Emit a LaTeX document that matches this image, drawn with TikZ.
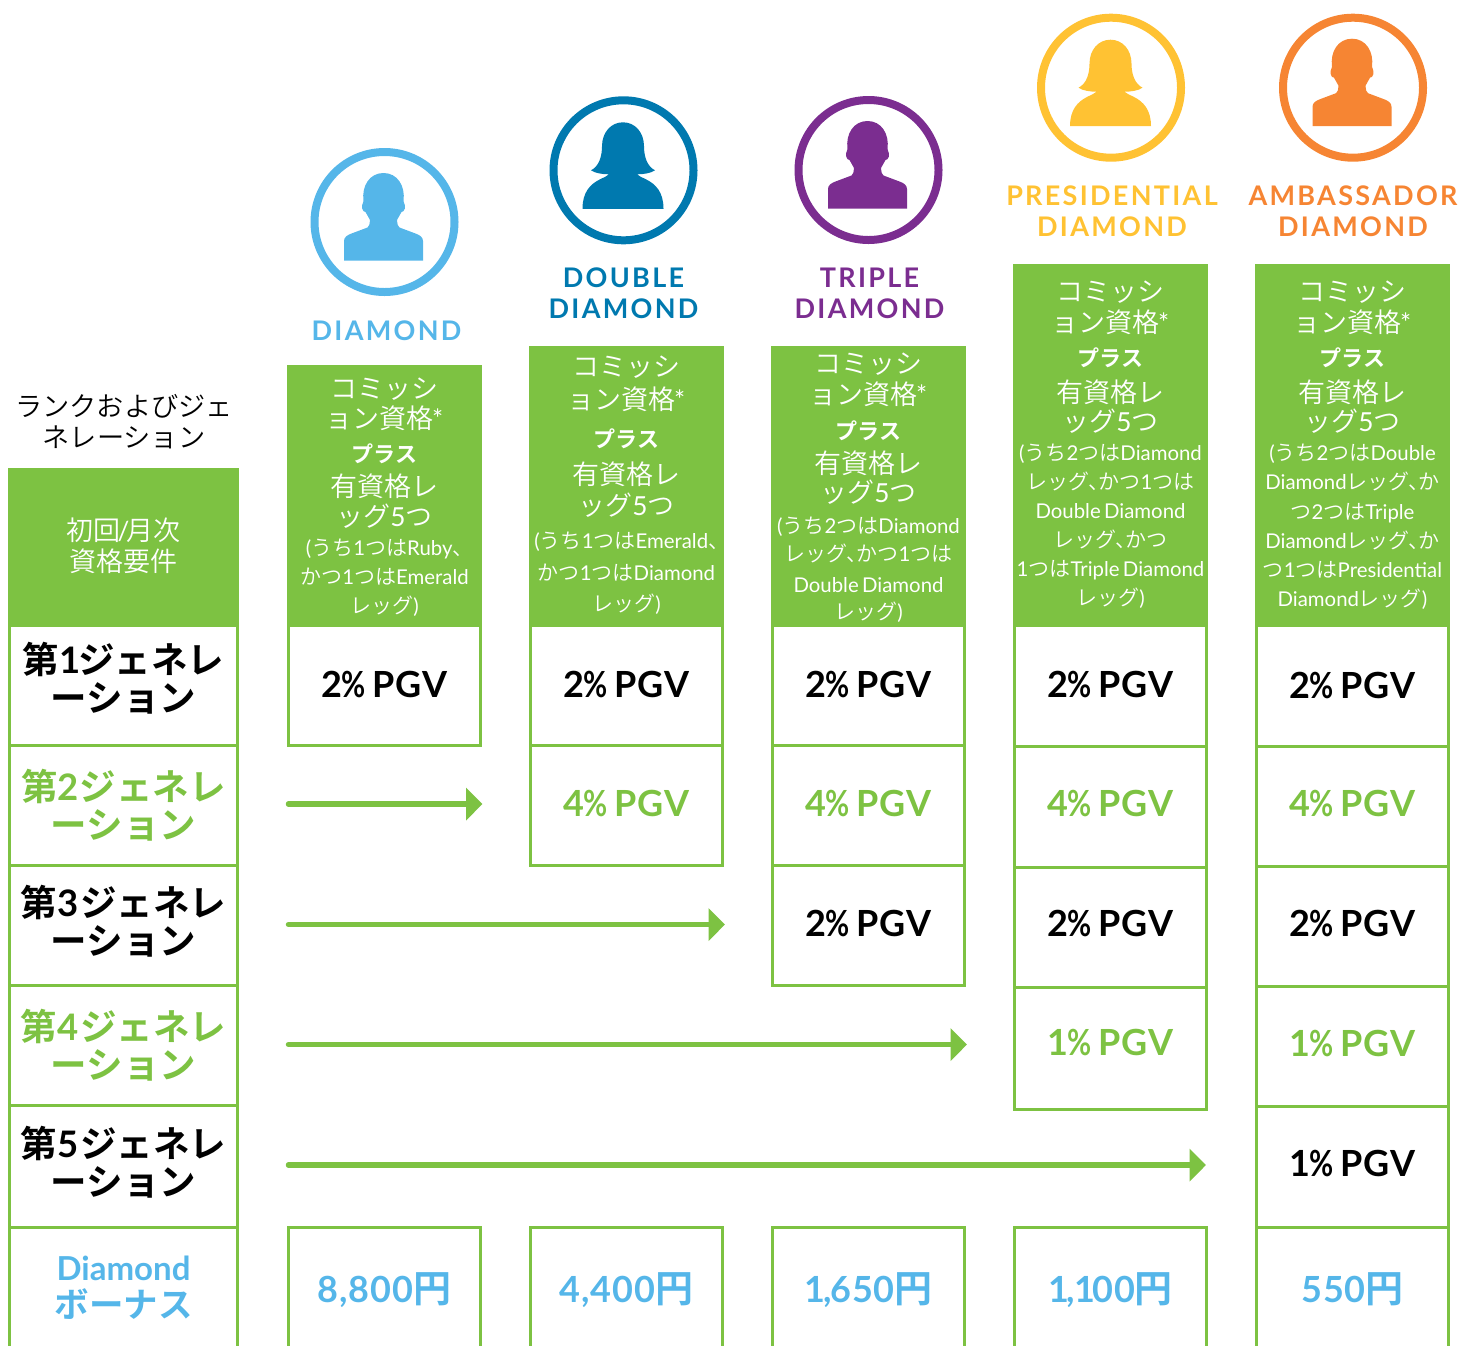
\documentclass[tikz,border=0pt]{standalone}
\usepackage{fontspec}
\usetikzlibrary{arrows.meta}
\IfFontExistsTF{Noto Sans CJK JP DemiLight}{\newfontfamily\jpl{Noto Sans CJK JP DemiLight}}{\newfontfamily\jpl{Noto Sans CJK JP Light}}
\newfontfamily\jpb{Noto Sans CJK JP Bold}
\newfontfamily\lal[Scale=0.97]{Lato}
\newfontfamily\lab{Lato Bold}
\newfontfamily\lay[LetterSpace=2.5]{Lato Bold}
\newfontfamily\lat[LetterSpace=8.5]{Lato Bold}
\definecolor{grn}{HTML}{7DC242}
\definecolor{sky}{HTML}{55B6E9}
\definecolor{blu}{HTML}{0079AF}
\definecolor{pur}{HTML}{7B2D90}
\definecolor{yel}{HTML}{FFC233}
\definecolor{org}{HTML}{F68533}
\newcommand\fs[1]{\fontsize{#1}{0}\selectfont}
\newcommand\tl[1]{{\lal #1}}
\newcommand\ten{、\kern-.5em}
\newcommand\stx{\kern-1.5pt\tl{*}}
% large, bold and small header lines
\newcommand\La[1]{{\fs{27}\jpl #1}}
\newcommand\Bo[1]{{\fs{22}\jpb #1}}
\newcommand\Sm[1]{{\fs{21}\jpl #1}}
\tikzset{
  boxbase/.style={rectangle,inner sep=0pt,outer sep=0pt,align=center,
    execute at begin node={\lineskiplimit=-1000pt\baselineskip=0pt}},
  hdrbox/.style={boxbase,fill=grn,text=white},
  cellbox/.style={boxbase,draw=grn,line width=3pt},
  pgvblack/.style={cellbox,text=black},
  pgvgreen/.style={cellbox,text=grn},
  bonus/.style={cellbox,text=sky},
  ringnode/.style={circle,draw=#1,line width=8pt,minimum size=140pt,inner sep=0pt,outer sep=0pt},
  titletext/.style={anchor=base,inner sep=0pt,align=center,text width=240pt,text=#1,
    execute at begin node={\lineskiplimit=-1000pt\baselineskip=0pt}},
  flow/.style={draw=grn,line width=5.5pt,line cap=round,-{Triangle[length=16.5pt,width=32pt]}},
  maleicon/.pic={
    \path[pic actions] (-39.5,38.5) -- (-39.5,19) .. controls (-39.5,15) and (-36,13) .. (-32,11.5)
      -- (-16,5.5) .. controls (-14,4.5) and (-14,2) .. (-13.5,-2) -- (-18,-10)
      .. controls (-21,-10) and (-23,-15) .. (-20,-21) .. controls (-22,-36) and (-14,-49) .. (0,-49)
      .. controls (14,-49) and (22,-36) .. (20,-21) .. controls (23,-15) and (21,-10) .. (18,-10)
      -- (13.5,-2) .. controls (14,2) and (14,4.5) .. (16,5.5) -- (32,11.5)
      .. controls (36,13) and (39.5,15) .. (39.5,19) -- (39.5,38.5) -- cycle;
  },
  femaleicon/.pic={
    \path[pic actions] (-40.5,38.5) .. controls (-40.5,22) and (-33,14) .. (-23,9)
      .. controls (-19,7) and (-16,6) .. (-14,4) .. controls (-20,4) and (-28,3) .. (-32,0)
      .. controls (-24,-4) and (-21,-14) .. (-21,-24) .. controls (-21,-38) and (-12,-48) .. (0,-48)
      .. controls (12,-48) and (21,-38) .. (21,-24) .. controls (21,-14) and (24,-4) .. (32,0)
      .. controls (28,3) and (20,4) .. (14,4) .. controls (16,6) and (19,7) .. (23,9)
      .. controls (33,14) and (40.5,22) .. (40.5,38.5) -- cycle;
  }
}
% [style]{name}{x1}{y1}{x2}{y2}{first baseline}{first-to-last baseline}{text}
\newcommand\bx[9][]{%
  \pgfmathsetmacro\bxw{#5-#3}\pgfmathsetmacro\bxv{#6-#4}%
  \pgfmathsetmacro\bxh{#8+2*(#7-(#4+#6)/2)}%
  \pgfmathsetmacro\bxx{(#3+#5)/2}\pgfmathsetmacro\bxy{(#4+#6)/2}%
  \node[#1,minimum width=\bxw pt,minimum height=\bxv pt,text width=\bxw pt,
    text height=\bxh pt,text depth=#8 pt] (#2) at (\bxx,\bxy) {#9};}
\newcommand\pgv[1]{{\fs{36}\lab #1\kern-1pt\scalebox{.82}[1]{\%}\kern3pt\ {\lay PGV}}}
\newcommand\yen[1]{{\fs{36}\lay #1{\fs{38}\jpb 円}}}
\newcommand\gen[2]{\fs{36.5}\jpb 第{\lab #1}\kern#2pt ジェネレ\\[38pt]ーション}
\begin{document}
\begin{tikzpicture}[x=1pt,y=-1pt]
\useasboundingbox (0,0) rectangle (1458,1345);
\clip (0,0) rectangle (1458,1345);
% rank icons
\node[ringnode=sky] (r1) at (384.5,222) {};
\pic[fill=sky] at (383.5,222) {maleicon};
\node[ringnode=blu] (r2) at (623.5,170.3) {};
\pic[fill=blu] at (623,170.3) {femaleicon};
\node[ringnode=pur] (r3) at (868.5,170) {};
\pic[fill=pur] at (867.5,170) {maleicon};
\node[ringnode=yel] (r4) at (1111,87.7) {};
\pic[fill=yel] at (1110.5,87.7) {femaleicon};
\node[ringnode=org] (r5) at (1353,87.7) {};
\pic[fill=org] at (1352,87.7) {maleicon};
% rank names
\node[titletext=sky] (t1) at (386.5,340) {\fs{27}\lat DIAMOND};
\node[titletext=blu] (t2) at (623.5,287.5) {\fs{27}\lat DOUBLE\\[31pt]DIAMOND};
\node[titletext=pur] (t3) at (869.5,287.5) {\fs{27}\lat TRIPLE\\[31pt]DIAMOND};
\node[titletext=yel] (t4) at (1112,205) {\fs{27}\lat PRESIDENTIAL\\[31pt]DIAMOND};
\node[titletext=org] (t5) at (1353,205) {\fs{27}\lat AMBASSADOR\\[31pt]DIAMOND};
\node[titletext=black] (t0) at (124,416.5) {\fs{27.2}\jpl ランクおよびジェ\\[30.5pt]ネレーション};
% green headers
\bx[hdrbox]{h0}{8}{468}{239}{627}{540}{31.5}{\La{初回\kern-3pt\tl{/}\kern-3pt月次}\\[31.5pt]\La{資格要件}}
\bx[hdrbox]{h1}{287}{365}{482}{627}{398}{215}{\La{コミッシ}\\[30pt]\La{ョン資格\stx}\\[34pt]\Bo{プラス}\\[34.5pt]\La{有資格レ}\\[29.5pt]\La{ッグ\tl{5}つ}\\[29.5pt]\Sm{\tl{(}うち\tl{1}つは\tl{Ruby}\ten}\\[29pt]\Sm{かつ\tl{1}つは\tl{Emerald}}\\[28.5pt]\Sm{レッグ\tl{)}}}
\bx[hdrbox]{h2}{529}{346}{724}{627}{376.5}{235}{\La{コミッシ}\\[33pt]\La{ョン資格\stx}\\[37.5pt]\Bo{プラス}\\[37.5pt]\La{有資格レ}\\[31pt]\La{ッグ\tl{5}つ}\\[33pt]\Sm{\tl{(}うち\tl{1}つは\tl{Emerald}\ten}\\[32pt]\Sm{かつ\tl{1}つは\tl{Diamond}}\\[31pt]\Sm{レッグ\tl{)}}}
\bx[hdrbox]{h3}{771}{346}{966}{627}{373.5}{246}{\La{コミッシ}\\[31pt]\La{ョン資格\stx}\\[34.5pt]\Bo{プラス}\\[34.5pt]\La{有資格レ}\\[29pt]\La{ッグ\tl{5}つ}\\[31pt]\Sm{\tl{(}うち\tl{2}つは\tl{Diamond}}\\[28pt]\Sm{レッグ\ten かつ\tl{1}つは}\\[31pt]\Sm{\tl{Double Diamond}}\\[27pt]\Sm{レッグ\tl{)}}}
\bx[hdrbox]{h4}{1013}{264}{1208}{627}{301}{304}{\La{コミッシ}\\[31pt]\La{ョン資格\stx}\\[34pt]\Bo{プラス}\\[36pt]\La{有資格レ}\\[29pt]\La{ッグ\tl{5}つ}\\[29.5pt]\Sm{\tl{(}うち\tl{2}つは\tl{Diamond}}\\[29pt]\Sm{レッグ\ten かつ\tl{1}つは}\\[29pt]\Sm{\tl{Double Diamond}}\\[29pt]\Sm{レッグ\ten かつ}\\[29pt]\Sm{\tl{1}つは\tl{Triple Diamond}}\\[28.5pt]\Sm{レッグ\tl{)}}}
\bx[hdrbox]{h5}{1255}{264}{1450}{627}{301.5}{305}{\La{コミッシ}\\[31pt]\La{ョン資格\stx}\\[34pt]\Bo{プラス}\\[35.5pt]\La{有資格レ}\\[29pt]\La{ッグ\tl{5}つ}\\[29.5pt]\Sm{\tl{(}うち\tl{2}つは\tl{Double}}\\[29pt]\Sm{\tl{Diamond}レッグ\ten か}\\[30pt]\Sm{つ\tl{2}つは\tl{Triple}}\\[28.5pt]\Sm{\tl{Diamond}レッグ\ten か}\\[29pt]\Sm{つ\tl{1}つは\tl{Presidential}}\\[29.5pt]\Sm{\tl{Diamond}レッグ\tl{)}}}
% generation labels
\bx[pgvblack]{g1}{9.5}{625.5}{237.5}{745.5}{673}{38}{\gen{1}{-2}}
\bx[pgvgreen]{g2}{9.5}{745.5}{237.5}{865.5}{800}{38}{\gen{2}{1}}
\bx[pgvblack]{g3}{9.5}{865.5}{237.5}{985.5}{916}{38}{\gen{3}{2}}
\bx[pgvgreen]{g4}{9.5}{985.5}{237.5}{1105.5}{1040}{38}{\gen{4}{2}}
\bx[pgvblack]{g5}{9.5}{1105.5}{237.5}{1227.5}{1157}{38}{\gen{5}{2}}
\bx[bonus]{g6}{9.5}{1227.5}{237.5}{1362}{1280}{37}{{\fs{33}\lab Diamond}\\[37pt]{\fs{34.5}\jpb ボーナス}}
% Diamond
\bx[pgvblack]{c11}{288.5}{625.5}{480.5}{745.5}{697.5}{0}{\pgv{2}}
\bx[bonus]{c16}{288.5}{1227.5}{480.5}{1362}{1302}{0}{\yen{8,800}}
% Double Diamond
\bx[pgvblack]{c21}{530.5}{625.5}{722.5}{745.5}{697.5}{0}{\pgv{2}}
\bx[pgvgreen]{c22}{530.5}{745.5}{722.5}{865.5}{816}{0}{\pgv{4}}
\bx[bonus]{c26}{530.5}{1227.5}{722.5}{1362}{1302}{0}{\yen{4,400}}
% Triple Diamond
\bx[pgvblack]{c31}{772.5}{625.5}{964.5}{745.5}{697.5}{0}{\pgv{2}}
\bx[pgvgreen]{c32}{772.5}{745.5}{964.5}{865.5}{816}{0}{\pgv{4}}
\bx[pgvblack]{c33}{772.5}{865.5}{964.5}{985.5}{936}{0}{\pgv{2}}
\bx[bonus]{c36}{772.5}{1227.5}{964.5}{1362}{1302}{0}{\yen{1\kern-2pt,\kern-1pt 650}}
% Presidential Diamond
\bx[pgvblack]{c41}{1014.5}{625.5}{1206.5}{746.5}{697.5}{0}{\pgv{2}}
\bx[pgvgreen]{c42}{1014.5}{746.5}{1206.5}{867}{816}{0}{\pgv{4}}
\bx[pgvblack]{c43}{1014.5}{867}{1206.5}{987.5}{936}{0}{\pgv{2}}
\bx[pgvgreen]{c44}{1014.5}{987.5}{1206.5}{1109}{1055.5}{0}{\pgv{1}}
\bx[bonus]{c46}{1014.5}{1227.5}{1206.5}{1362}{1302}{0}{\yen{1\kern-2pt,\kern-1pt 1\kern-3pt 00}}
% Ambassador Diamond
\bx[pgvblack]{c51}{1256.5}{625.5}{1448.5}{746.5}{698}{0}{\pgv{2}}
\bx[pgvgreen]{c52}{1256.5}{746.5}{1448.5}{866.5}{816.5}{0}{\pgv{4}}
\bx[pgvblack]{c53}{1256.5}{866.5}{1448.5}{986.5}{936.5}{0}{\pgv{2}}
\bx[pgvgreen]{c54}{1256.5}{986.5}{1448.5}{1106.5}{1056}{0}{\pgv{1}}
\bx[pgvblack]{c55}{1256.5}{1106.5}{1448.5}{1227.5}{1176.5}{0}{\pgv{1}}
\bx[bonus]{c56}{1256.5}{1227.5}{1448.5}{1362}{1302}{0}{\yen{550}}
% arrows
\coordinate (a2s) at (288.5,804); \coordinate (a2e) at (482.5,804);
\coordinate (a3s) at (288.5,924.5); \coordinate (a3e) at (725,924.5);
\coordinate (a4s) at (288.5,1044.5); \coordinate (a4e) at (967,1044.5);
\coordinate (a5s) at (288.5,1165); \coordinate (a5e) at (1206,1165);
\draw[flow] (a2s) -- (a2e);
\draw[flow] (a3s) -- (a3e);
\draw[flow] (a4s) -- (a4e);
\draw[flow] (a5s) -- (a5e);
\end{tikzpicture}
\end{document}
